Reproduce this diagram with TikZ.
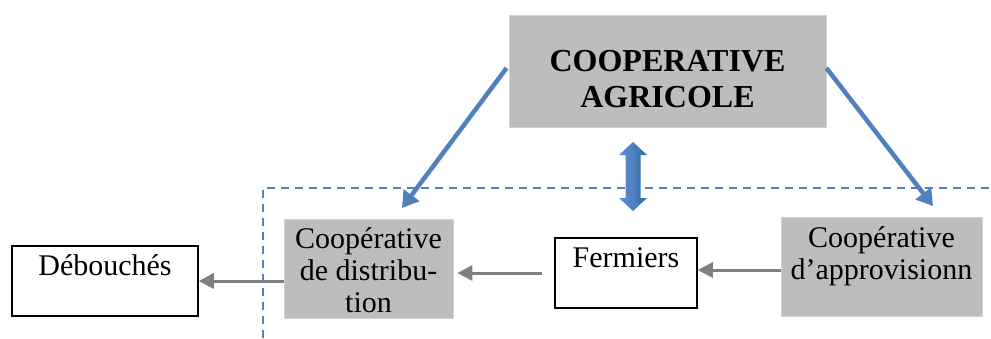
\documentclass[tikz,border=0pt]{standalone}
\usepackage{fontspec}
\setmainfont{Liberation Serif}
\usetikzlibrary{arrows.meta,calc}
\definecolor{boxgray}{HTML}{BDBDBD}
\definecolor{boxedge}{HTML}{D2D2D2}
\definecolor{arrblue}{HTML}{4F81BD}
\definecolor{dblue}{HTML}{2F64B0}
\definecolor{lblue}{HTML}{5A8FD6}
\definecolor{arrgray}{HTML}{808080}
\tikzset{
  graybox/.style={draw=boxedge,line width=0.8pt,fill=boxgray,inner sep=0pt},
  whitebox/.style={draw=black,line width=1.5pt,fill=white,inner sep=0pt},
  txt/.style={font=\fontsize{30}{32}\selectfont,anchor=base,inner sep=0pt},
  bigtxt/.style={font=\bfseries\fontsize{32}{36}\selectfont,anchor=base,inner sep=0pt},
  bluearr/.style={draw=arrblue,line width=4.5pt,-{Triangle[length=16pt,width=19pt]}},
  grayarr/.style={draw=arrgray,line width=3pt,-{Triangle[length=15pt,width=15pt]}},
  dashline/.style={draw=arrblue,line width=1.7pt,dash pattern=on 8pt off 6pt}
}
\begin{document}
\begin{tikzpicture}[x=1pt,y=-1pt]
\useasboundingbox (0,0) rectangle (991,338);
% dashed frame
\coordinate (fa) at (263,338);
\coordinate (fb) at (263,188);
\coordinate (fc) at (991,188);
\draw[dashline] (fa) -- (fb) -- (fc);
% boxes
\node[graybox,minimum width=317pt,minimum height=112pt] (coop) at (667.5,71) {};
\node[bigtxt] (coopt1) at (667.5,71) {COOPERATIVE};
\node[bigtxt] (coopt2) at (667.5,107) {AGRICOLE};
\node[graybox,minimum width=169pt,minimum height=99pt] (dist) at (368.5,268.5) {};
\node[txt] (distt1) at (368.5,248) {Coopérative};
\node[txt] (distt2) at (368.5,280) {de distribu-};
\node[txt] (distt3) at (368.5,312) {tion};
\node[whitebox,minimum width=142pt,minimum height=70pt] (ferm) at (626,273) {};
\node[txt] (fermt) at (626,267) {Fermiers};
\node[graybox,minimum width=201pt,minimum height=99pt] (appro) at (881.5,266.5) {};
\node[txt] (approt1) at (881.5,247) {Coopérative};
\node[txt] (approt2) at (881.5,279) {d’approvisionn};
\node[whitebox,minimum width=186pt,minimum height=70pt] (deb) at (105,281) {};
\node[txt] (debt) at (105,275) {Débouchés};
% blue arrows
\coordinate (dtip) at (402,208);
\coordinate (atip) at (933,206);
\draw[bluearr] ($(coop.west)+(-2,-3)$) -- (dtip);
\draw[bluearr] ($(coop.east)+(0,-3)$) -- (atip);
% double arrow
\shade[left color=lblue,right color=dblue,middle color=arrblue]
  (633,142) -- (647,155) -- (640.5,155) -- (640.5,198) -- (647,198) -- (633,211)
  -- (619,198) -- (625.5,198) -- (625.5,155) -- (619,155) -- cycle;
% gray arrows
\draw[grayarr] (deb.east -| dist.west) -- (deb.east);
\draw[grayarr,shorten <=12pt,shorten >=4pt] (ferm.west) -- (ferm.west -| dist.east);
\draw[grayarr] ($(appro.west)+(0,3.5)$) -- ($(ferm.east)+(0,-3)$);
\end{tikzpicture}
\end{document}
